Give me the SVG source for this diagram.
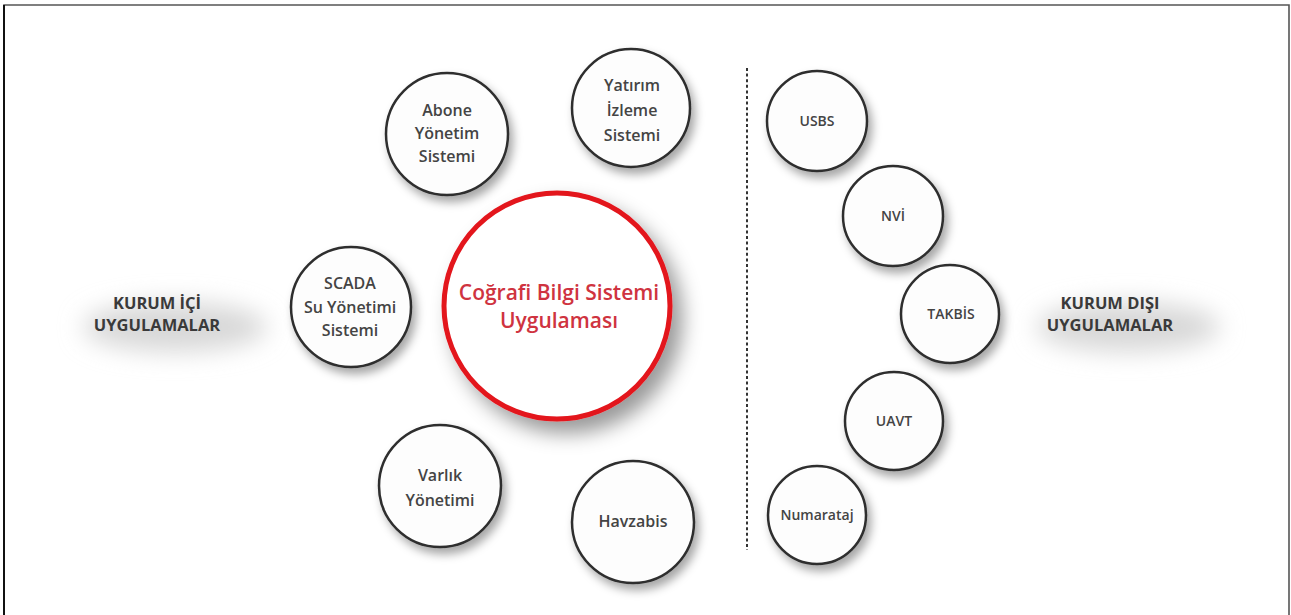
<svg xmlns="http://www.w3.org/2000/svg" width="1291" height="615" viewBox="0 0 1291 615">
  <style>
    .node { fill: #fdfdfd; stroke: #2e2e2e; stroke-width: 2.5; filter: url(#shadow); }
    .t { font-family: "Open Sans", "Liberation Sans", sans-serif; font-weight: 600; fill: #444; text-anchor: middle; }
    .big { font-size: 16px; }
    .small { font-size: 14px; }
    .label { font-family: "Open Sans", "Liberation Sans", sans-serif; font-weight: 700; font-size: 16.5px; fill: #3a3a3a; text-anchor: middle; }
    .main { font-family: "Open Sans", "Liberation Sans", sans-serif; font-weight: 600; font-size: 21px; fill: #cf3340; text-anchor: middle; }
  </style>
  <defs>
    <filter id="shadow" x="-30%" y="-30%" width="170%" height="170%">
      <feDropShadow dx="4" dy="6" stdDeviation="5" flood-color="#000" flood-opacity="0.35"/>
    </filter>
    <filter id="bigshadow" x="-30%" y="-30%" width="170%" height="170%">
      <feDropShadow dx="10" dy="12" stdDeviation="10" flood-color="#000" flood-opacity="0.4"/>
    </filter>
    <filter id="glow" x="-50%" y="-100%" width="200%" height="300%">
      <feGaussianBlur stdDeviation="12"/>
    </filter>
  </defs>
  <rect x="0" y="0" width="1291" height="615" fill="#ffffff"/>
  <path d="M4 615 V5 H1289 V615" fill="none" stroke="#555" stroke-width="1.6"/>
  <line x1="4" y1="5" x2="4" y2="615" stroke="#111" stroke-width="2"/>

  <g id="connectors">
    <line x1="747" y1="68" x2="747" y2="550" stroke="#333" stroke-width="2" stroke-dasharray="3 2.6"/>
  </g>

  <g id="label-ici">
    <ellipse cx="175" cy="327" rx="92" ry="25" fill="#d8d8d8" filter="url(#glow)"/>
    <text class="label" x="157" y="309">KURUM İÇİ</text>
    <text class="label" x="157" y="331">UYGULAMALAR</text>
  </g>
  <g id="label-disi">
    <ellipse cx="1128" cy="327" rx="92" ry="25" fill="#d8d8d8" filter="url(#glow)"/>
    <text class="label" x="1110" y="309">KURUM DIŞI</text>
    <text class="label" x="1110" y="331">UYGULAMALAR</text>
  </g>

  <g id="cbs">
    <circle cx="557" cy="306" r="113" fill="#ffffff" stroke="#e3141c" stroke-width="5" filter="url(#bigshadow)"/>
    <text class="main" x="559" y="300">Coğrafi Bilgi Sistemi</text>
    <text class="main" x="559" y="328">Uygulaması</text>
  </g>

  <g id="abone">
    <circle class="node" cx="447" cy="134" r="61"/>
    <text class="t big" x="447" y="116">Abone</text>
    <text class="t big" x="447" y="139">Yönetim</text>
    <text class="t big" x="447" y="162">Sistemi</text>
  </g>
  <g id="yatirim">
    <circle class="node" cx="631" cy="108" r="59"/>
    <text class="t big" x="632" y="91">Yatırım</text>
    <text class="t big" x="632" y="116">İzleme</text>
    <text class="t big" x="632" y="141">Sistemi</text>
  </g>
  <g id="scada">
    <circle class="node" cx="351" cy="307" r="60"/>
    <text class="t big" x="350" y="289">SCADA</text>
    <text class="t big" x="350" y="313">Su Yönetimi</text>
    <text class="t big" x="350" y="336">Sistemi</text>
  </g>
  <g id="varlik">
    <circle class="node" cx="440" cy="486" r="61"/>
    <text class="t big" x="440" y="481">Varlık</text>
    <text class="t big" x="440" y="506">Yönetimi</text>
  </g>
  <g id="havzabis">
    <circle class="node" cx="633" cy="522" r="61"/>
    <text class="t big" x="633" y="527">Havzabis</text>
  </g>

  <g id="usbs">
    <circle class="node" cx="817" cy="121" r="50"/>
    <text class="t small" x="817" y="126">USBS</text>
  </g>
  <g id="nvi">
    <circle class="node" cx="893" cy="216" r="50"/>
    <text class="t small" x="893" y="221">NVİ</text>
  </g>
  <g id="takbis">
    <circle class="node" cx="950" cy="314" r="49"/>
    <text class="t small" x="951" y="319">TAKBİS</text>
  </g>
  <g id="uavt">
    <circle class="node" cx="894" cy="421" r="49"/>
    <text class="t small" x="894" y="426">UAVT</text>
  </g>
  <g id="numarataj">
    <circle class="node" cx="817" cy="515" r="49"/>
    <text class="t small" x="817" y="520">Numarataj</text>
  </g>
</svg>
